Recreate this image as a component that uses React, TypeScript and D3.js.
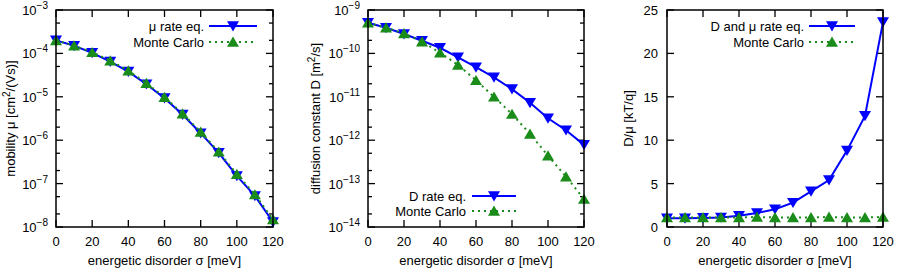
import React from 'react';
import * as d3 from 'd3';

// energetic disorder sigma [meV]
const sigma = [0, 10, 20, 30, 40, 50, 60, 70, 80, 90, 100, 110, 120];
const xTicks = [0, 20, 40, 60, 80, 100, 120];

// mobility [cm^2/(Vs)]
const muRate = [2.0e-4, 1.5e-4, 1.03e-4, 6.5e-5, 3.8e-5, 1.95e-5, 9.3e-6, 3.9e-6, 1.45e-6, 5.1e-7, 1.5e-7, 5.2e-8, 1.3e-8];
const muMC = [2.0e-4, 1.5e-4, 1.06e-4, 6.8e-5, 4.0e-5, 2.05e-5, 9.8e-6, 4.1e-6, 1.55e-6, 5.4e-7, 1.65e-7, 5.6e-8, 1.5e-8];

// diffusion constant [m^2/s]
const dRate = [5.1e-10, 3.9e-10, 2.8e-10, 1.96e-10, 1.35e-10, 8.1e-11, 4.8e-11, 2.8e-11, 1.5e-11, 7.3e-12, 3.2e-12, 1.7e-12, 7.8e-13];
const dMC = [5.1e-10, 3.9e-10, 2.9e-10, 1.86e-10, 1.04e-10, 5.4e-11, 2.4e-11, 1.0e-11, 4.0e-12, 1.4e-12, 4.4e-13, 1.45e-13, 4.4e-14];

// D/mu [kT/q]
const ratioRate = [1.0, 1.0, 1.05, 1.1, 1.3, 1.6, 2.05, 2.8, 4.1, 5.4, 8.8, 12.8, 23.6];
const ratioMC = [1.1, 1.1, 1.1, 1.1, 1.1, 1.15, 1.1, 1.1, 1.1, 1.15, 1.1, 1.1, 1.15];
const ratioTicks = [0, 5, 10, 15, 20, 25];

const BLUE = '#0000ff';
const GREEN = '#1a8c1a';
const FONT = '"Liberation Sans", Arial, sans-serif';
const FS = 13;
const SUP = 10;

const TOP = 10;
const BOTTOM = 227;

const triDown = (x, y, s = 6) => `M${x - s},${y - s * 0.8}L${x + s},${y - s * 0.8}L${x},${y + s * 0.9}Z`;
const triUp = (x, y, s = 6) => `M${x - s},${y + s * 0.8}L${x + s},${y + s * 0.8}L${x},${y - s * 0.9}Z`;

const Panel = ({ left, right, log, domain, yTicks, rate, mc, yLabel, yLabelX, legend }) => {
  const x = d3.scaleLinear().domain([0, 120]).range([left, right]);
  const y = log
    ? d3.scaleLog().domain(domain).range([BOTTOM, TOP])
    : d3.scaleLinear().domain(domain).range([BOTTOM, TOP]);

  const line = d3
    .line()
    .x((d) => x(d[0]))
    .y((d) => y(d[1]));
  const ptsRate = sigma.map((s, i) => [s, rate[i]]);
  const ptsMC = sigma.map((s, i) => [s, mc[i]]);

  // minor ticks on log axis at 2 and 5 per decade
  let minor = [];
  if (log) {
    const lo = Math.round(Math.log10(domain[0]));
    const hi = Math.round(Math.log10(domain[1]));
    for (let e = lo; e < hi; e++) {
      minor.push(2 * Math.pow(10, e), 5 * Math.pow(10, e));
    }
  }

  const midY = (TOP + BOTTOM) / 2;

  return (
    <g>
      {/* x ticks, bottom and top */}
      {xTicks.map((t) => (
        <g key={'x' + t}>
          <line x1={x(t)} x2={x(t)} y1={BOTTOM} y2={BOTTOM - 7} stroke="#000" strokeWidth={1.3} />
          <line x1={x(t)} x2={x(t)} y1={TOP} y2={TOP + 7} stroke="#000" strokeWidth={1.3} />
          <text x={x(t)} y={246} textAnchor="middle" fontSize={FS}>{t}</text>
        </g>
      ))}
      {/* y ticks */}
      {yTicks.map((t) => (
        <g key={'y' + t}>
          <line x1={left} x2={left + 7} y1={y(t)} y2={y(t)} stroke="#000" strokeWidth={1.3} />
          <line x1={right} x2={right - 7} y1={y(t)} y2={y(t)} stroke="#000" strokeWidth={1.3} />
          {log ? (
            <text x={left - 8} y={y(t) + 5} textAnchor="end" fontSize={FS}>
              10
              <tspan fontSize={SUP} dy={-6}>{'\u2212' + Math.abs(Math.round(Math.log10(t)))}</tspan>
            </text>
          ) : (
            <text x={left - 9} y={y(t) + 5} textAnchor="end" fontSize={FS}>{t}</text>
          )}
        </g>
      ))}
      {minor.map((t, i) => (
        <g key={'m' + i}>
          <line x1={left} x2={left + 4} y1={y(t)} y2={y(t)} stroke="#000" strokeWidth={1.3} />
          <line x1={right} x2={right - 4} y1={y(t)} y2={y(t)} stroke="#000" strokeWidth={1.3} />
        </g>
      ))}

      {/* series */}
      <path d={line(ptsRate)} fill="none" stroke={BLUE} strokeWidth={2} />
      {ptsRate.map((d, i) => (
        <path key={'r' + i} d={triDown(x(d[0]), y(d[1]))} fill={BLUE} />
      ))}
      <path d={line(ptsMC)} fill="none" stroke={GREEN} strokeWidth={2} strokeDasharray="2,4" />
      {ptsMC.map((d, i) => (
        <path key={'c' + i} d={triUp(x(d[0]), y(d[1]))} fill={GREEN} />
      ))}

      {/* frame */}
      <rect x={left} y={TOP} width={right - left} height={BOTTOM - TOP} fill="none" stroke="#000" strokeWidth={1.5} />

      {/* legend */}
      <text x={legend.textX} y={legend.y1 + 5} textAnchor="end" fontSize={FS}>{legend.label}</text>
      <line x1={legend.x1} x2={legend.x2} y1={legend.y1} y2={legend.y1} stroke={BLUE} strokeWidth={2} />
      <path d={triDown((legend.x1 + legend.x2) / 2, legend.y1)} fill={BLUE} />
      <text x={legend.textX} y={legend.y2 + 5} textAnchor="end" fontSize={FS}>Monte Carlo</text>
      <line x1={legend.x1} x2={legend.x2} y1={legend.y2} y2={legend.y2} stroke={GREEN} strokeWidth={2} strokeDasharray="2,4" />
      <path d={triUp((legend.x1 + legend.x2) / 2, legend.y2)} fill={GREEN} />

      {/* axis labels */}
      <text x={(left + right) / 2} y={265} textAnchor="middle" fontSize={FS}>energetic disorder σ [meV]</text>
      <text transform={`translate(${yLabelX},${midY}) rotate(-90)`} textAnchor="middle" fontSize={FS}>
        {yLabel}
      </text>
    </g>
  );
};

const App = () => {
  return (
    <svg
      width={899}
      height={270}
      style={{ position: 'absolute', left: 0, top: 0, background: '#fff' }}
      fontFamily={FONT}
    >
      <Panel
        left={56}
        right={273}
        log
        domain={[1e-8, 1e-3]}
        yTicks={[1e-3, 1e-4, 1e-5, 1e-6, 1e-7, 1e-8]}
        rate={muRate}
        mc={muMC}
        yLabelX={15}
        yLabel={
          <>
            mobility μ [cm<tspan fontSize={SUP} dy={-5}>2</tspan>
            <tspan dy={5}>/(Vs)]</tspan>
          </>
        }
        legend={{ label: 'μ rate eq.', textX: 204, x1: 209, x2: 257, y1: 26, y2: 42 }}
      />
      <Panel
        left={368}
        right={584}
        log
        domain={[1e-14, 1e-9]}
        yTicks={[1e-9, 1e-10, 1e-11, 1e-12, 1e-13, 1e-14]}
        rate={dRate}
        mc={dMC}
        yLabelX={320}
        yLabel={
          <>
            diffusion constant D [m<tspan fontSize={SUP} dy={-5}>2</tspan>
            <tspan dy={5}>/s]</tspan>
          </>
        }
        legend={{ label: 'D rate eq.', textX: 466, x1: 472, x2: 516, y1: 196, y2: 211 }}
      />
      <Panel
        left={667}
        right={883}
        domain={[0, 25]}
        yTicks={ratioTicks}
        rate={ratioRate}
        mc={ratioMC}
        yLabelX={633}
        yLabel="D/μ [kT/q]"
        legend={{ label: 'D and μ rate eq.', textX: 804, x1: 809, x2: 855, y1: 26, y2: 42 }}
      />
    </svg>
  );
};

export default App;
